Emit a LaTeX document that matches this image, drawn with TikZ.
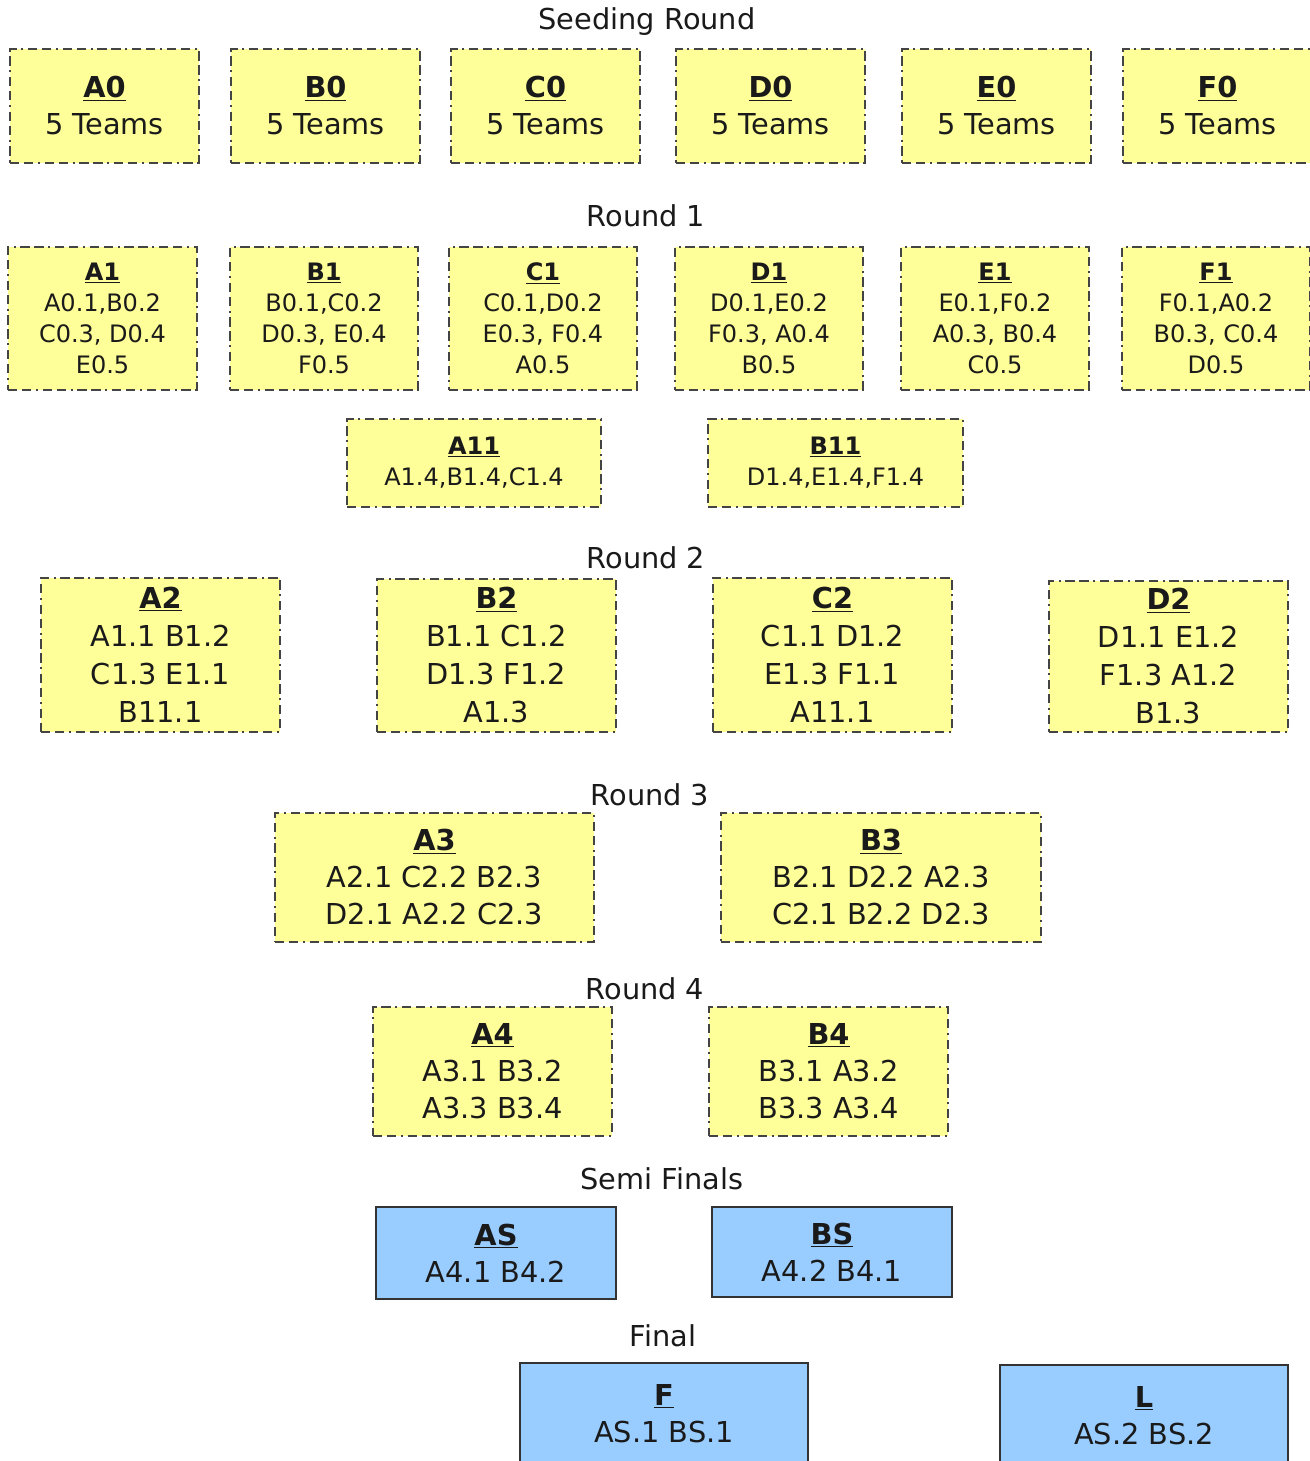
\documentclass[tikz,border=0pt]{standalone}
\usepackage{fontspec}
\setmainfont{DejaVu Sans}
\definecolor{ybox}{HTML}{FFFF99}
\definecolor{bbox}{HTML}{99CCFF}
\definecolor{ink}{HTML}{1A1A1A}
\definecolor{edge}{HTML}{444444}
\newcommand{\ttl}[1]{\underline{\textbf{#1}}}
\tikzset{
  x=0.75pt, y=-0.75pt,
  ybx/.style={draw=edge, fill=ybox, line width=1.1pt,
    dash pattern=on 7pt off 3.5pt on 7pt off 3.5pt on 1.5pt off 3.5pt,
    inner sep=0pt, align=center, text=ink},
  bbx/.style={draw=black!80, fill=bbox, line width=0.9pt,
    inner sep=0pt, align=center, text=ink},
  big/.style={font=\fontsize{21.6pt}{27.75pt}\selectfont},
  bigb/.style={font=\fontsize{21.6pt}{28.5pt}\selectfont},
  small/.style={font=\fontsize{18pt}{23.25pt}\selectfont},
  lbl/.style={text=ink, font=\fontsize{21.6pt}{26pt}\selectfont, inner sep=0pt},
}
\newcommand{\bx}[7]{%
  \node[#6, minimum width={(#4-#2)*0.75pt}, minimum height={(#5-#3)*0.75pt}]
    (#1) at ({(#2+#4)/2},{(#3+#5)/2}) {#7};}
\begin{document}
\begin{tikzpicture}
\useasboundingbox (0,0) rectangle (1310,1461);
% labels
\node[lbl] (lseed) at (647,22) {Seeding Round};
\node[lbl] (lr1) at (646,216) {Round 1};
\node[lbl] (lr2) at (646,558) {Round 2};
\node[lbl] (lr3) at (650,795) {Round 3};
\node[lbl] (lr4) at (645,989) {Round 4};
\node[lbl] (lsemi) at (662,1179) {Semi Finals};
\node[lbl] (lfin) at (663,1336) {Final};
% seeding
\bx{A0}{10}{49}{199}{163}{ybx,big}{\ttl{A0}\\5 Teams}
\bx{B0}{231}{49}{420}{163}{ybx,big}{\ttl{B0}\\5 Teams}
\bx{C0}{451}{49}{640}{163}{ybx,big}{\ttl{C0}\\5 Teams}
\bx{D0}{676}{49}{865}{163}{ybx,big}{\ttl{D0}\\5 Teams}
\bx{E0}{902}{49}{1091}{163}{ybx,big}{\ttl{E0}\\5 Teams}
\bx{F0}{1123}{49}{1312}{163}{ybx,big}{\ttl{F0}\\5 Teams}
% round 1
\bx{A1}{8}{247}{197}{390}{ybx,small}{\ttl{A1}\\A0.1,B0.2\\C0.3, D0.4\\E0.5}
\bx{B1}{230}{247}{418}{390}{ybx,small}{\ttl{B1}\\B0.1,C0.2\\D0.3, E0.4\\F0.5}
\bx{C1}{449}{247}{637}{390}{ybx,small}{\ttl{C1}\\C0.1,D0.2\\E0.3, F0.4\\A0.5}
\bx{D1}{675}{247}{863}{390}{ybx,small}{\ttl{D1}\\D0.1,E0.2\\F0.3, A0.4\\B0.5}
\bx{E1}{901}{247}{1089}{390}{ybx,small}{\ttl{E1}\\E0.1,F0.2\\A0.3, B0.4\\C0.5}
\bx{F1}{1122}{247}{1310}{390}{ybx,small}{\ttl{F1}\\F0.1,A0.2\\B0.3, C0.4\\D0.5}
\bx{A11}{347}{419}{601}{507}{ybx,small}{\ttl{A11}\\A1.4,B1.4,C1.4}
\bx{B11}{708}{419}{963}{507}{ybx,small}{\ttl{B11}\\D1.4,E1.4,F1.4}
% round 2
\bx{A2}{41}{578}{280}{732}{ybx,bigb}{\ttl{A2}\\A1.1 B1.2\\C1.3 E1.1\\B11.1}
\bx{B2}{377}{579}{616}{732}{ybx,bigb}{\ttl{B2}\\B1.1 C1.2\\D1.3 F1.2\\A1.3}
\bx{C2}{713}{578}{952}{732}{ybx,bigb}{\ttl{C2}\\C1.1 D1.2\\E1.3 F1.1\\A11.1}
\bx{D2}{1049}{581}{1288}{732}{ybx,bigb}{\ttl{D2}\\D1.1 E1.2\\F1.3 A1.2\\B1.3}
% round 3
\bx{A3}{275}{813}{594}{942}{ybx,big}{\ttl{A3}\\A2.1 C2.2 B2.3\\D2.1 A2.2 C2.3}
\bx{B3}{721}{813}{1041}{942}{ybx,big}{\ttl{B3}\\B2.1 D2.2 A2.3\\C2.1 B2.2 D2.3}
% round 4
\bx{A4}{373}{1007}{612}{1136}{ybx,big}{\ttl{A4}\\A3.1 B3.2\\A3.3 B3.4}
\bx{B4}{709}{1007}{948}{1136}{ybx,big}{\ttl{B4}\\B3.1 A3.2\\B3.3 A3.4}
% semi finals
\bx{AS}{376}{1207}{616}{1299}{bbx,big}{\ttl{AS}\\A4.1 B4.2}
\bx{BS}{712}{1207}{952}{1297}{bbx,big}{\ttl{BS}\\A4.2 B4.1}
% final
\bx{F}{520}{1363}{808}{1464}{bbx,big}{\ttl{F}\\AS.1 BS.1}
\bx{L}{1000}{1365}{1288}{1466}{bbx,big}{\ttl{L}\\AS.2 BS.2}
\end{tikzpicture}
\end{document}
